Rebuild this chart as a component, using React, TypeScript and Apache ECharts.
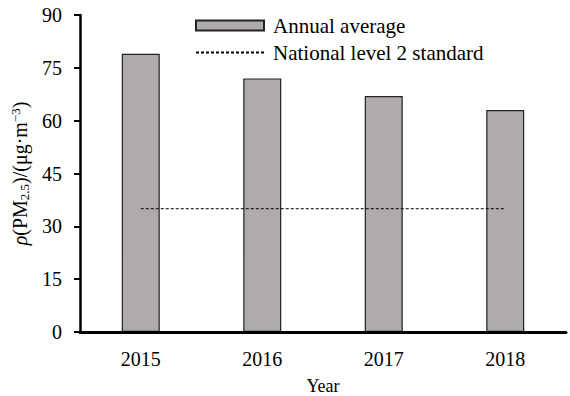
import React, { useEffect, useRef } from "react";
import * as echarts from "echarts";

const years = ["2015", "2016", "2017", "2018"];
const annualAverage = [79, 72, 67, 63];
const levelTwoStandard = [35, 35, 35, 35];
const yMin = 0;
const yMax = 90;
const yStep = 15;

const FONT = "Liberation Serif";

export default function App() {
  const ref = useRef<HTMLDivElement>(null);

  useEffect(() => {
    if (!ref.current) return;
    const chart = echarts.init(ref.current, null, { renderer: "svg" });
    chart.setOption({
      animation: false,
      backgroundColor: "#ffffff",
      textStyle: { fontFamily: FONT, color: "#000" },
      grid: {
        left: 80,
        right: 4,
        top: 15,
        bottom: 64,
        containLabel: false,
        outerBoundsMode: "none",
      },
      legend: {
        orient: "vertical",
        left: 190,
        top: 10,
        itemWidth: 68,
        itemHeight: 10,
        itemGap: 6,
        textStyle: { fontFamily: FONT, fontSize: 21, color: "#000", padding: [0, 0, 0, 4] },
        data: [
          { name: "Annual average", icon: "rect" },
          {
            name: "National level 2 standard",
            itemStyle: { color: "rgba(0,0,0,0)", borderWidth: 0 },
          },
        ],
      },
      xAxis: {
        type: "category",
        data: years,
        z: 5,
        name: "Year",
        nameLocation: "middle",
        nameGap: 45,
        nameTextStyle: { fontFamily: FONT, fontSize: 18, color: "#000" },
        axisLine: { lineStyle: { color: "#000", width: 3 } },
        axisTick: {
          alignWithLabel: true,
          inside: true,
          length: 4,
          lineStyle: { color: "#000", width: 1.5 },
        },
        axisLabel: { fontFamily: FONT, fontSize: 20, color: "#000", margin: 17 },
      },
      yAxis: {
        type: "value",
        min: yMin,
        max: yMax,
        interval: yStep,
        name: "{i|ρ}{n|(PM}{s|2.5}{n|)/(μg·m}{p|−3}{n|)}",
        nameLocation: "middle",
        nameRotate: 90,
        nameGap: 42,
        nameTextStyle: {
          fontFamily: FONT,
          color: "#000",
          rich: {
            i: { fontFamily: FONT, fontSize: 20, fontStyle: "italic", lineHeight: 22, color: "#000" },
            n: { fontFamily: FONT, fontSize: 20, lineHeight: 22, color: "#000" },
            s: { fontFamily: FONT, fontSize: 13, verticalAlign: "bottom", color: "#000" },
            p: { fontFamily: FONT, fontSize: 13, verticalAlign: "top", color: "#000" },
          },
        },
        splitLine: { show: false },
        axisLine: { show: true, lineStyle: { color: "#000", width: 2.5 } },
        axisTick: { show: true, length: 6, lineStyle: { color: "#000", width: 2 } },
        axisLabel: { fontFamily: FONT, fontSize: 20, color: "#000", margin: 18 },
      },
      series: [
        {
          name: "Annual average",
          type: "bar",
          data: annualAverage,
          barWidth: 38,
          z: 2,
          itemStyle: { color: "#afabaa", borderColor: "#222", borderWidth: 1.2 },
        },
        {
          name: "National level 2 standard",
          type: "line",
          data: levelTwoStandard,
          symbol: "none",
          z: 4,
          lineStyle: { color: "#000", width: 1, type: [3, 2] },
        },
      ],
    });
    return () => chart.dispose();
  }, []);

  return (
    <div
      ref={ref}
      style={{ position: "fixed", left: 0, top: 0, width: 570, height: 396 }}
    />
  );
}
